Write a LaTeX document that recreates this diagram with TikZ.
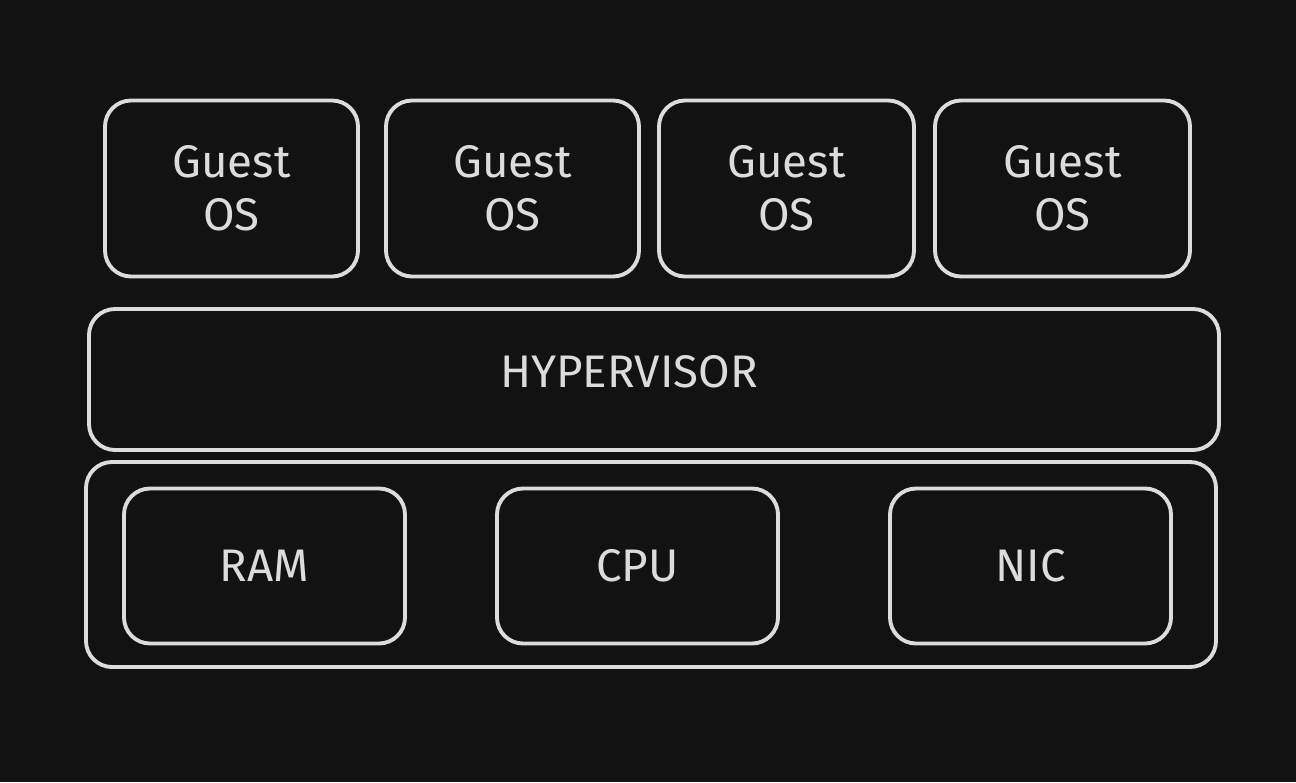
\documentclass[tikz,border=0pt]{standalone}
\usepackage{fontspec}
\setmainfont{Fira Sans}
\usepackage{tikz,xcolor}
\usetikzlibrary{positioning}
\definecolor{bgdark}{HTML}{121212}
\definecolor{inkgray}{HTML}{DCDCDC}

\begin{document}
\begin{tikzpicture}[every node/.style={shape=rectangle,draw=inkgray,line width=1.1pt,rounded corners=0.26cm,text=inkgray,font=\fontsize{13}{15}\selectfont,align=center,inner sep=0pt,outer sep=0pt},
  guest/.style={minimum width=2.53cm,minimum height=1.76cm},
  part/.style={minimum width=2.81cm,minimum height=1.55cm}]
	% background
	\fill[bgdark] (0,0) rectangle (12.96,-7.82);
	\useasboundingbox (0,0) rectangle (12.96,-7.82);

	% create the nodes
	\node (guest1)[guest] at (2.315,-1.885) {Guest\\OS};
	\node (guest2)[guest, right = 0.28cm of guest1]{Guest\\OS};
	\node (guest3)[guest, right = 0.20cm of guest2, minimum width=2.55cm]{Guest\\OS};
	\node (guest4)[guest, right = 0.21cm of guest3, minimum width=2.55cm]{Guest\\OS};
	\node (hyper)[minimum width=11.30cm, minimum height=1.41cm, label={[draw=none,xshift=-0.25cm,yshift=0.08cm]center:HYPERVISOR}] at (6.54,-3.795) {};
	\node (hw)[minimum width=11.30cm, minimum height=2.05cm] at (6.51,-5.645) {};
	\node (ram)[part] at (2.645,-5.66) {RAM};
	\node (cpu)[part, right = 0.92cm of ram]{CPU};
	\node (nic)[part, right = 1.12cm of cpu]{NIC};

\end{tikzpicture}
\end{document}
